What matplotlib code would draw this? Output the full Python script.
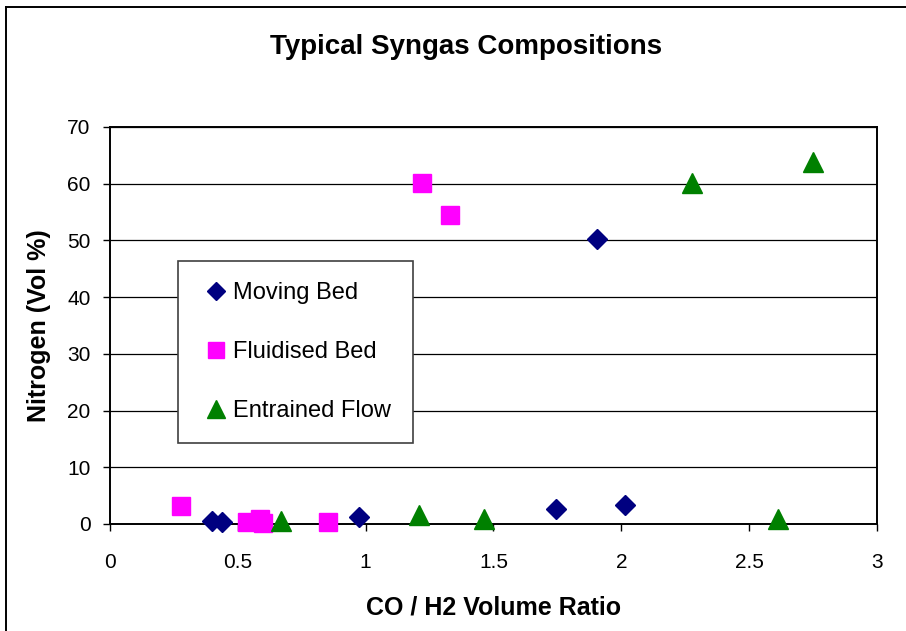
import matplotlib
matplotlib.use('Agg')
from matplotlib import pyplot as plt
from matplotlib.lines import Line2D

plt.rcParams['font.family'] = ['Liberation Sans', 'DejaVu Sans']

# Data (CO/H2 ratio, N2 vol %)
moving_x = [0.40, 0.44, 0.975, 1.746, 1.903, 2.015]
moving_y = [0.6, 0.3, 1.3, 2.6, 50.2, 3.35]

fluid_x = [0.276, 0.535, 0.585, 0.60, 0.851, 1.219, 1.331]
fluid_y = [3.2, 0.4, 0.8, 0.2, 0.4, 60.1, 54.4]

entrained_x = [0.669, 1.208, 1.463, 2.277, 2.614, 2.748]
entrained_y = [0.6, 1.6, 0.9, 60.2, 0.9, 63.9]

x_ticks = [0, 0.5, 1, 1.5, 2, 2.5, 3]
x_tick_labels = ['0', '0.5', '1', '1.5', '2', '2.5', '3']
y_ticks = [0, 10, 20, 30, 40, 50, 60, 70]

fig = plt.figure(figsize=(9.06, 6.31), dpi=100)
ax = fig.add_axes([0.1214, 0.1696, 0.8466, 0.6292])

ax.plot(moving_x, moving_y, linestyle='none', marker='D', markersize=10,
        color='#000080', label='Moving Bed', zorder=3, clip_on=False)
ax.plot(fluid_x, fluid_y, linestyle='none', marker='s', markersize=13,
        color='#FF00FF', label='Fluidised Bed', zorder=3, clip_on=False)
ax.plot(entrained_x, entrained_y, linestyle='none', marker='^', markersize=14.5,
        color='#008000', label='Entrained Flow', zorder=3, clip_on=False)

ax.set_xlim(0, 3)
ax.set_ylim(0, 70)
ax.set_xticks(x_ticks)
ax.set_xticklabels(x_tick_labels)
ax.set_yticks(y_ticks)
ax.tick_params(axis='both', labelsize=15, length=5, width=1, color='black')
ax.tick_params(axis='x', pad=16)
ax.tick_params(axis='y', pad=9)
ax.yaxis.grid(True, color='black', linewidth=0.9)
ax.set_axisbelow(True)
for s in ax.spines.values():
    s.set_color('black')
    s.set_linewidth(1.4)

ax.set_xlabel('CO / H2 Volume Ratio', fontsize=18, fontweight='bold', labelpad=17)
ax.set_ylabel('Nitrogen (Vol %)', fontsize=18, fontweight='bold', labelpad=12)
fig.text(466 / 906, 1 - 47 / 631, 'Typical Syngas Compositions', ha='center', va='center',
         fontsize=20, fontweight='bold')

leg = ax.legend(loc='upper left', bbox_to_anchor=(178 / 906, 1 - 261 / 631),
                bbox_transform=fig.transFigure, fontsize=17, fancybox=False,
                framealpha=1, edgecolor='#404040', borderpad=0.9, labelspacing=1.56,
                handlelength=1.4, handletextpad=0.05, markerscale=0.87, borderaxespad=0)
leg.get_frame().set_linewidth(1.2)

# outer chart border (only top and left show in the cropped original)
fig.add_artist(Line2D([6 / 906, 6 / 906], [0, 1 - 7 / 631], transform=fig.transFigure,
                      color='black', linewidth=1.4))
fig.add_artist(Line2D([6 / 906, 1], [1 - 7 / 631, 1 - 7 / 631], transform=fig.transFigure,
                      color='black', linewidth=1.4))

fig.savefig('out.png', dpi=100)
